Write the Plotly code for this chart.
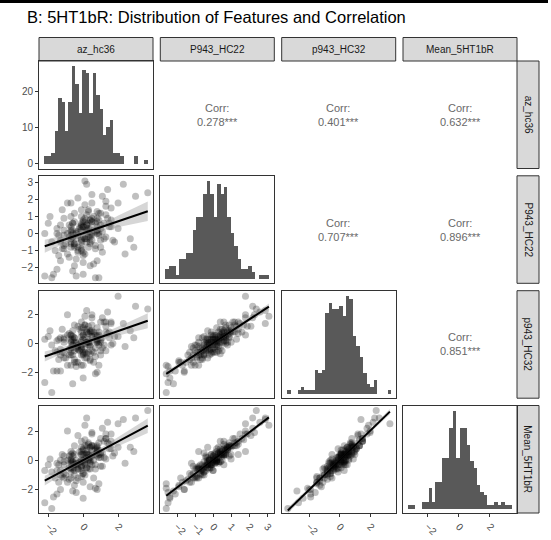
import numpy as np
import plotly.graph_objects as go

W, H = 551, 540

# ---------------- data ----------------
variables = ["az_hc36", "P943_HC22", "p943_HC32", "Mean_5HT1bR"]

az_hc36 = [0.8, -0.3, -0.5, 0.1, 1.2, 0.0, -0.4, -0.7, -0.7, 0.8,
           0.5, 1.3, -1.5, -1.3, 0.7, 0.2, 0.6, -0.1, -0.4, 1.2,
           -1.3, 0.3, -0.1, 1.6, -0.6, 1.1, -1.4, 1.1, 0.0, -1.0,
           -0.9, 1.3, 0.0, -0.1, 0.2, -0.5, 1.0, -0.1, 0.5, -1.8,
           0.4, 0.0, 1.4, -0.8, -0.1, 0.4, -0.2, -0.1, 0.3, 0.8,
           -0.5, 0.4, -0.9, -1.1, 1.0, -0.7, 0.1, 1.0, -1.2, 0.3,
           -0.6, -0.7, 2.0, -0.7, 0.9, -0.1, -0.6, 0.5, 0.0, -0.1,
           1.3, 0.1, -0.7, 0.8, 1.6, -1.6, -0.3, 0.5, -0.8, 0.1,
           0.9, -1.1, 0.3, -1.4, 0.2, -0.3, 0.7, -0.6, 0.9, 1.4,
           0.4, -0.7, 0.7, 0.5, -0.4, -0.1, 0.8, -0.5, 0.8, -1.7,
           0.2, -1.1, -0.1, 0.3, -0.2, 1.7, -0.6, 0.0, 0.5, -0.8,
           0.5, 0.1, -0.5, 1.5, -1.3, 0.0, 0.9, -0.6, -0.5, 0.3,
           -0.4, 1.0, 0.4, -0.7, 0.1, -0.3, 1.0, 0.4, 0.2, -1.3,
           -1.1, -0.1, 0.7, -0.1, -0.5, 0.6, -0.3, 1.5, 0.1, -1.5,
           0.4, 0.2, -1.5, 1.3, 0.3, 0.0, -1.1, 0.8, -0.7, 0.2,
           3.7, 0.1, 0.2, 2.3, 3.0, -0.9, 2.0, -1.8, -2.2, 0.0,
           -0.4, 0.7, 0.9, -0.6, -2.0, -2.2, -1.9, -0.3, 2.7, 1.6,
           2.9, -0.7, 0.5, 0.4, 0.8, 2.4, 1.8, -1.2, 0.6, 1.1]

P943_HC22 = [0.4, -0.8, 1.2, 0.1, -0.3, 0.7, -1.5, 0.2, -0.5, 0.9,
             -0.1, 1.6, -2.1, 0.5, -0.7, 0.3, 1.0, -1.0, 0.0, 0.6,
             -0.4, 1.3, -0.9, 0.8, -0.2, 2.2, -1.3, 0.1, 0.4, -0.6,
             0.0, 1.1, -1.1, 0.5, -0.3, 0.7, -0.8, 0.2, 1.8, -0.5,
             0.3, -0.2, 0.9, -1.4, 0.6, -0.1, 0.4, -0.7, 1.4, 0.0,
             -0.6, 0.8, -1.2, 0.2, -0.4, 1.0, -0.3, 0.5, -0.9, 0.1,
             0.6, -0.8, 0.3, -0.1, 1.2, -0.5, 0.0, 0.7, -1.7, 0.4,
             -0.2, 0.9, -0.6, 0.2, 1.5, -1.0, 0.1, -0.4, 0.5, -0.3,
             0.8, -0.7, 0.3, -0.1, 1.1, -1.1, 0.6, -0.2, 0.0, 2.6,
             -0.5, 0.4, -0.9, 0.7, 0.1, -0.3, 1.3, -0.6, 0.2, -2.4,
             0.5, -0.1, 1.0, -0.8, 0.3, -0.4, 0.6, -1.3, 0.9, -0.2,
             0.0, 1.7, -0.7, 0.4, -0.5, 0.8, -0.1, 0.2, -1.9, 0.6,
             -0.3, 1.2, -0.6, 0.1, 0.7, -1.0, 0.3, -0.2, 0.5, -1.6,
             0.9, -0.4, 0.1, 1.4, -0.8, 0.2, -0.1, 0.6, -1.2, 0.3,
             0.8, -0.5, 0.0, 1.9, -0.2, 0.4, -0.9, 0.7, -0.3, 0.2,
             2.4, 3.1, 2.9, 2.9, 2.2, 1.8, 1.8, -2.6, -2.5, -2.4,
             -2.5, -2.6, -2.6, -2.2, 0.6, 0.0, 1.0, 2.1, -0.3, 0.4,
             -0.8, 1.8, 2.3, -1.9, -1.6, -1.2, -0.5, 1.4, -1.8, -1.1]

p943_HC32 = [0.1, -0.2, 1.3, -0.6, -0.1, 1.1, -1.3, 0.2, -0.8, 0.5,
             0.8, 0.8, -1.9, 0.4, -0.3, 0.8, 0.8, -1.5, -0.3, 1.5,
             -0.4, 1.2, -0.1, -0.1, -0.1, 1.8, -1.1, 0.4, -0.7, -1.0,
             0.6, 1.5, -0.8, 0.8, -1.0, 0.4, -0.8, -0.2, 1.8, -0.1,
             -0.2, 0.3, 0.7, -0.8, 0.2, -0.7, 1.0, -0.8, 0.7, 0.1,
             0.4, 0.8, -1.5, 0.3, 0.3, 0.1, -0.4, -0.5, -0.6, -0.1,
             0.9, -1.5, 0.5, -0.6, 0.8, -0.4, 0.3, 0.5, -1.5, 0.5,
             -0.5, 1.3, -0.3, 1.1, 1.4, -0.5, -0.4, -0.5, 0.7, 0.4,
             0.1, -0.6, 0.3, 0.3, 0.8, -1.3, 0.6, -0.8, -0.1, 2.2,
             0.1, -0.3, -0.9, 1.3, 0.1, 0.1, 0.3, -0.5, 0.6, -1.9,
             0.1, 0.1, 1.1, -0.6, -0.5, 0.0, 0.5, -0.6, 0.9, -0.4,
             0.5, 1.3, -1.1, 0.4, -0.8, 0.6, 0.6, -0.1, -1.3, 0.1,
             0.0, 1.5, -1.1, 0.6, 0.0, -0.1, 0.1, -0.1, 1.0, -1.9,
             0.4, -0.3, 0.3, 1.5, 0.1, -0.6, -0.4, 0.8, -1.0, 0.2,
             0.9, -0.7, -0.6, 1.2, 0.1, 0.6, -1.0, 0.2, 0.3, 0.1,
             2.4, 1.9, 2.3, 1.4, 2.6, 2.0, 3.3, -3.4, -2.7, -2.4,
             -1.6, -2.1, -1.5, -2.8, 0.5, 0.3, 0.9, 1.2, 0.9, 1.5,
             0.4, 0.6, 2.0, -1.2, -2.0, -0.2, 0.5, 1.0, -1.3, -0.3]

Mean_5HT1bR = [0.5, -0.6, 1.0, -0.2, 0.2, 0.8, -1.4, 0.0, -0.8, 0.9,
               0.4, 1.5, -2.3, 0.0, -0.3, 0.5, 1.0, -1.1, -0.2, 1.3,
               -0.7, 1.2, -0.5, 0.8, -0.3, 2.2, -1.5, 0.5, -0.1, -1.0,
               0.0, 1.5, -0.9, 0.6, -0.5, 0.4, -0.4, 0.0, 1.8, -0.8,
               0.2, 0.0, 1.2, -1.3, 0.4, -0.2, 0.6, -0.7, 1.1, 0.3,
               -0.3, 0.9, -1.5, -0.1, 0.2, 0.4, -0.3, 0.4, -1.1, 0.1,
               0.5, -1.2, 0.9, -0.5, 1.2, -0.4, -0.1, 0.7, -1.5, 0.4,
               0.1, 1.0, -0.6, 0.8, 1.8, -1.2, -0.2, -0.3, 0.3, 0.0,
               0.7, -0.9, 0.4, -0.3, 1.0, -1.2, 0.8, -0.6, 0.2, 2.6,
               -0.1, -0.1, -0.6, 1.0, 0.0, -0.1, 1.0, -0.7, 0.6, -2.5,
               0.4, -0.3, 0.9, -0.6, -0.1, 0.3, 0.3, -0.9, 1.0, -0.5,
               0.3, 1.4, -1.0, 0.8, -1.0, 0.7, 0.4, -0.1, -1.7, 0.4,
               -0.3, 1.5, -0.6, 0.1, 0.4, -0.6, 0.5, 0.0, 0.7, -2.0,
               0.3, -0.4, 0.4, 1.3, -0.5, 0.0, -0.3, 1.1, -1.0, -0.2,
               0.9, -0.5, -0.7, 1.8, 0.0, 0.4, -1.2, 0.7, -0.2, 0.2,
               3.4, 2.4, 2.9, 2.8, 2.9, 2.0, 2.5, -3.3, -2.9, -2.6,
               -2.2, -1.9, -1.6, -2.1, -0.3, -0.7, 0.1, 1.7, 0.9, 1.3,
               0.6, 0.6, 1.9, -1.8, -2.0, -0.2, 0.5, 0.4, -1.2, -0.4]

# histogram bins (30 bins each)
az_hist_counts = [2, 2, 3, 9, 18, 17, 9, 17, 27, 22, 14, 26, 25, 14, 25,
                  19, 15, 8, 10, 12, 3, 3, 2, 0, 0, 0, 2, 0, 0, 1]
P943_hist_counts = [3, 4, 4, 1, 6, 6, 8, 8, 15, 19, 19, 26, 30, 26, 19,
                    29, 26, 28, 19, 14, 10, 6, 3, 3, 4, 2, 0, 1, 1, 1]
p943_hist_counts = [1, 0, 0, 1, 2, 1, 1, 1, 7, 6, 7, 24, 27, 25, 25,
                    26, 23, 29, 28, 17, 14, 11, 6, 3, 2, 4, 0, 0, 0, 1]
mean_hist_counts = [1, 1, 0, 0, 2, 2, 6, 2, 8, 8, 15, 15, 24, 29, 15,
                    24, 24, 19, 14, 12, 7, 5, 4, 1, 1, 2, 1, 2, 1, 1]
hist_bin_start = [-2.23, -2.64, -3.46, -3.29]
hist_bin_width = [0.198, 0.192, 0.227, 0.223]

# correlation labels (upper triangle, row-major)
corr_pairs = [(0, 1), (0, 2), (0, 3), (1, 2), (1, 3), (2, 3)]
corr_labels = ["0.278***", "0.401***", "0.632***", "0.707***", "0.896***", "0.851***"]

# axis ticks
var_ticks = [[-2, 0, 2], [-2, -1, 0, 1, 2, 3], [-2, 0, 2], [-2, 0, 2]]
count_ticks = [0, 10, 20]

# ---------------- layout geometry / styles ----------------
var_ranges = [[-2.53, 4.0], [-2.93, 3.4], [-3.8, 3.68], [-3.6, 3.75]]
col_left = [39, 160.3, 281.7, 403]
row_top = [61, 175.8, 290.7, 405.5]
PW, PH = 114, 107.5
FONT = "Liberation Sans, Arial, sans-serif"
BORDER = "#333333"
TICKCOL = "#4d4d4d"

data = [az_hc36, P943_HC22, p943_HC32, Mean_5HT1bR]
hists = [az_hist_counts, P943_hist_counts, p943_hist_counts, mean_hist_counts]


def fx(p):
    return p / W


def fy(p):
    return 1 - p / H


fig = go.Figure()
layout = {}
shapes = []
annotations = []

for i in range(4):
    for j in range(4):
        k = i * 4 + j + 1
        xn = "x" if k == 1 else f"x{k}"
        yn = "y" if k == 1 else f"y{k}"
        xa = "xaxis" if k == 1 else f"xaxis{k}"
        ya = "yaxis" if k == 1 else f"yaxis{k}"

        xdom = [fx(col_left[j]), fx(col_left[j] + PW)]
        ydom = [fy(row_top[i] + PH), fy(row_top[i])]

        xaxis = dict(domain=xdom, anchor=yn, range=var_ranges[j],
                     showgrid=False, zeroline=False, showline=True, mirror=True,
                     linecolor=BORDER, linewidth=1, showticklabels=False, ticks="")
        if i == j:
            yr = [-0.05 * max(hists[i]), 1.05 * max(hists[i])]
        elif i > j:
            yr = var_ranges[i]
        else:
            yr = [0, 1]
        yaxis = dict(domain=ydom, anchor=xn, range=yr,
                     showgrid=False, zeroline=False, showline=True, mirror=True,
                     linecolor=BORDER, linewidth=1, showticklabels=False, ticks="")

        if i == 3:
            xaxis.update(showticklabels=True, ticks="outside", ticklen=3, tickwidth=1,
                         tickcolor=BORDER, tickvals=var_ticks[j], tickangle=45,
                         tickfont=dict(size=10, color=TICKCOL, family=FONT))
        if j == 0:
            tv = count_ticks if i == 0 else var_ticks[i]
            yaxis.update(showticklabels=True, ticks="outside", ticklen=3, tickwidth=1,
                         tickcolor=BORDER, tickvals=tv,
                         tickfont=dict(size=10, color=TICKCOL, family=FONT))
        layout[xa] = xaxis
        layout[ya] = yaxis

        if i == j:
            counts = hists[i]
            centers = [hist_bin_start[i] + hist_bin_width[i] * (b + 0.5) for b in range(len(counts))]
            fig.add_trace(go.Bar(x=centers, y=counts, width=hist_bin_width[i],
                                 marker=dict(color="#595959", line=dict(width=0)),
                                 xaxis=xn, yaxis=yn, showlegend=False, hoverinfo="skip"))
        elif i > j:
            xv = np.array(data[j], dtype=float)
            yv = np.array(data[i], dtype=float)
            fig.add_trace(go.Scatter(x=xv, y=yv, mode="markers",
                                     marker=dict(size=7, color="rgba(0,0,0,0.25)", line=dict(width=0)),
                                     xaxis=xn, yaxis=yn, showlegend=False, hoverinfo="skip"))
            slope, intercept = np.polyfit(xv, yv, 1)
            n = len(xv)
            resid = yv - (slope * xv + intercept)
            s = np.sqrt(np.sum(resid ** 2) / (n - 2))
            xbar = xv.mean()
            sxx = np.sum((xv - xbar) ** 2)
            xs = np.linspace(xv.min(), xv.max(), 80)
            ys = slope * xs + intercept
            se = s * np.sqrt(1.0 / n + (xs - xbar) ** 2 / sxx)
            up = ys + 1.97 * se
            lo = ys - 1.97 * se
            fig.add_trace(go.Scatter(x=np.concatenate([xs, xs[::-1]]),
                                     y=np.concatenate([up, lo[::-1]]),
                                     mode="lines", fill="toself",
                                     fillcolor="rgba(153,153,153,0.4)", line=dict(width=0),
                                     xaxis=xn, yaxis=yn, showlegend=False, hoverinfo="skip"))
            fig.add_trace(go.Scatter(x=xs, y=ys, mode="lines",
                                     line=dict(color="black", width=2),
                                     xaxis=xn, yaxis=yn, showlegend=False, hoverinfo="skip"))

# correlation text
for (r, c), lab in zip(corr_pairs, corr_labels):
    annotations.append(dict(x=fx(col_left[c] + PW / 2), y=fy(row_top[r] + PH / 2),
                            xref="paper", yref="paper", showarrow=False,
                            xanchor="center", yanchor="middle",
                            text="Corr:<br>" + lab, align="center",
                            font=dict(size=11, color="#696969", family=FONT)))

# strips
STRIP_TOP, STRIP_BOT = 37.5, 61
for j in range(4):
    shapes.append(dict(type="rect", xref="paper", yref="paper",
                       x0=fx(col_left[j]), x1=fx(col_left[j] + PW),
                       y0=fy(STRIP_BOT), y1=fy(STRIP_TOP),
                       fillcolor="#d9d9d9", line=dict(color=BORDER, width=1), layer="below"))
    annotations.append(dict(x=fx(col_left[j] + PW / 2), y=fy((STRIP_TOP + STRIP_BOT) / 2),
                            xref="paper", yref="paper", showarrow=False,
                            xanchor="center", yanchor="middle",
                            text=variables[j], font=dict(size=10, color="#1a1a1a", family=FONT)))
RS_L, RS_R = 517, 539
for i in range(4):
    shapes.append(dict(type="rect", xref="paper", yref="paper",
                       x0=fx(RS_L), x1=fx(RS_R),
                       y0=fy(row_top[i] + PH), y1=fy(row_top[i]),
                       fillcolor="#d9d9d9", line=dict(color=BORDER, width=1), layer="below"))
    annotations.append(dict(x=fx((RS_L + RS_R) / 2), y=fy(row_top[i] + PH / 2),
                            xref="paper", yref="paper", showarrow=False, textangle=90,
                            xanchor="center", yanchor="middle",
                            text=variables[i], font=dict(size=10, color="#1a1a1a", family=FONT)))

# title and top rule
annotations.append(dict(x=fx(25), y=fy(17), xref="paper", yref="paper", showarrow=False,
                        xanchor="left", yanchor="middle",
                        text="B: 5HT1bR: Distribution of Features and Correlation",
                        font=dict(size=16.5, color="#000000", family=FONT)))
shapes.append(dict(type="rect", xref="paper", yref="paper", x0=0, x1=fx(548),
                   y0=fy(3), y1=1, fillcolor="black", line=dict(width=0)))

fig.update_layout(width=W, height=H, margin=dict(l=0, r=0, t=0, b=0),
                  paper_bgcolor="white", plot_bgcolor="white",
                  bargap=0, showlegend=False, shapes=shapes, annotations=annotations,
                  font=dict(family=FONT), **layout)

fig.write_html("out.html")
